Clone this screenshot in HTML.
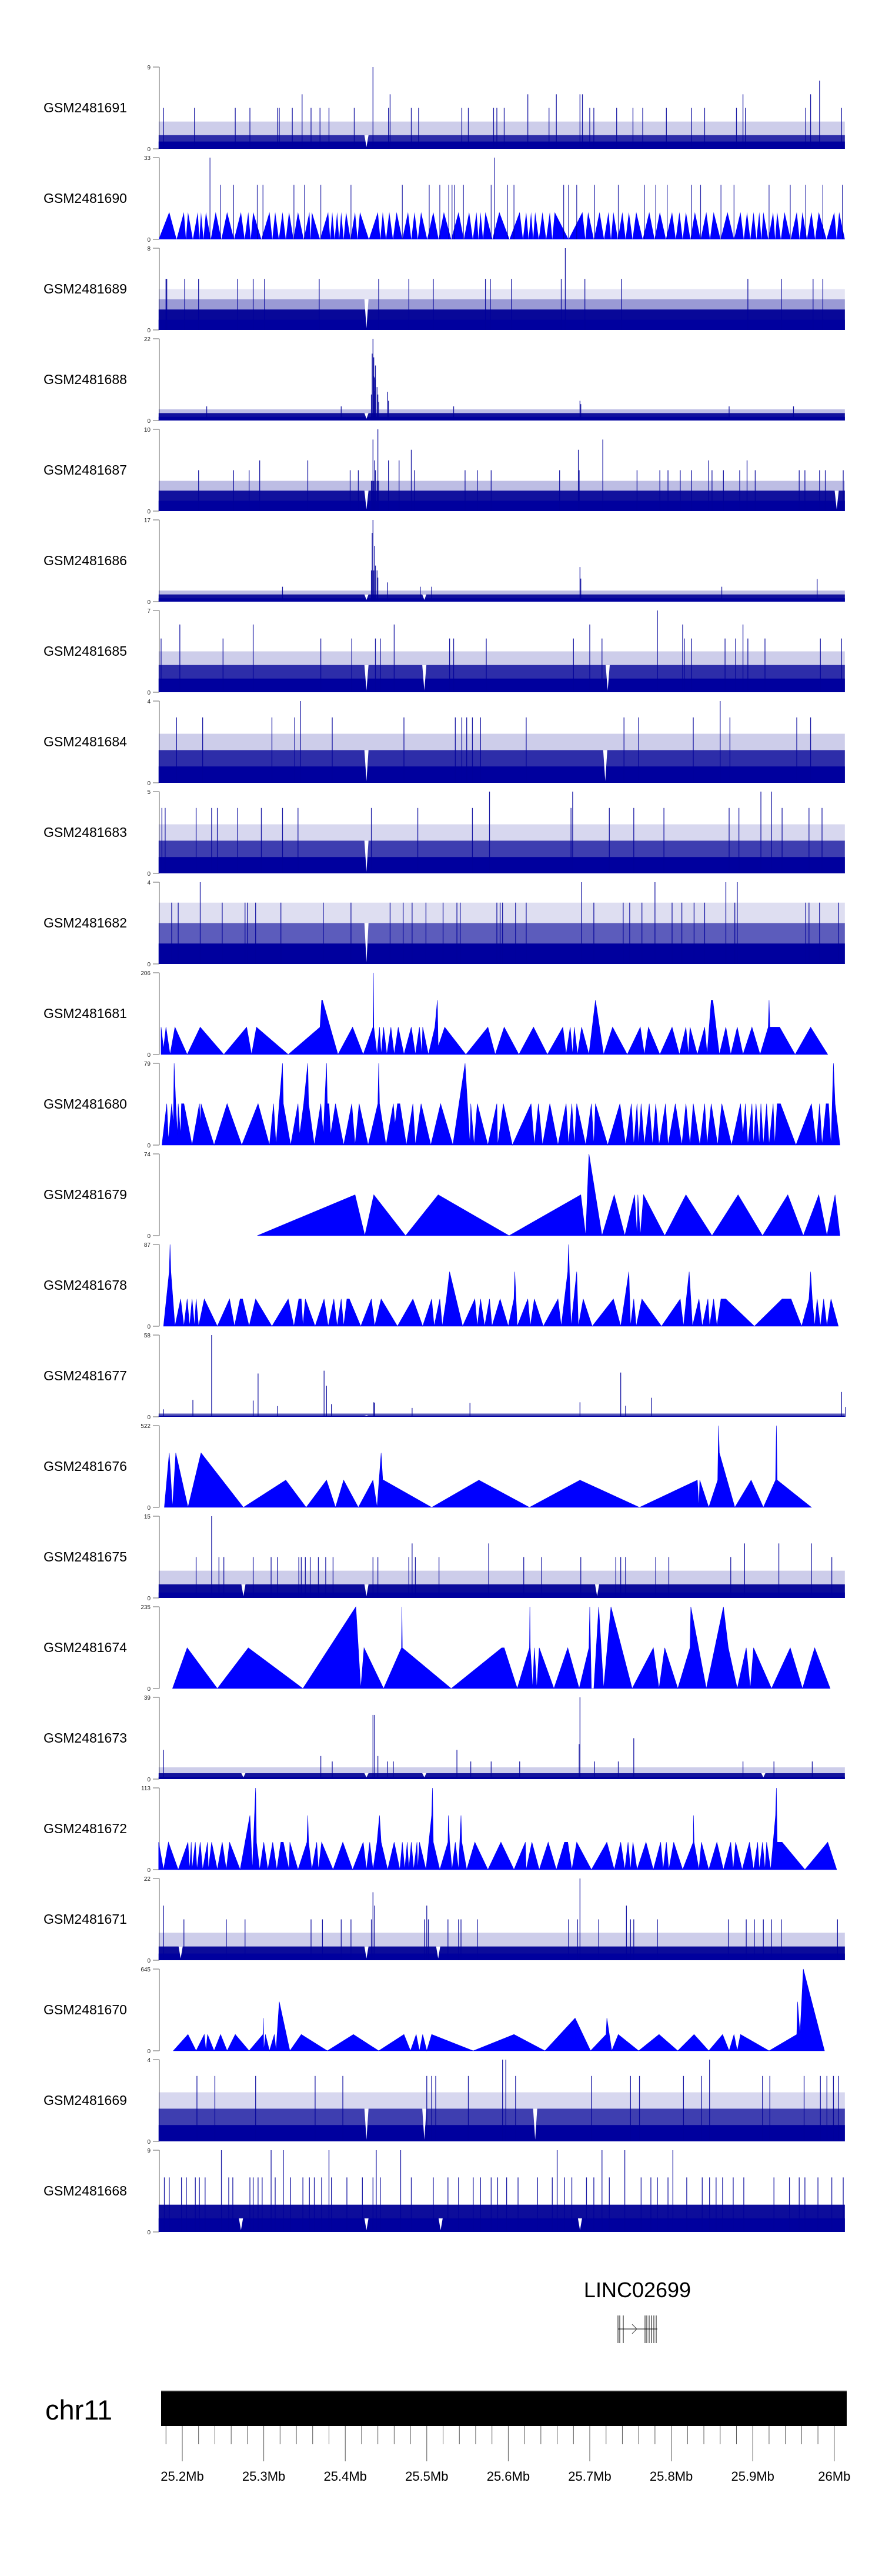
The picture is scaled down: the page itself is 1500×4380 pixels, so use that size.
<!DOCTYPE html>
<html><head><meta charset="utf-8"><title>Genome tracks chr11</title>
<style>
html,body{margin:0;padding:0;background:#fff;}
svg{display:block;}
text{font-family:"Liberation Sans",Arial,sans-serif;}
</style></head>
<body>
<svg id="chart" xmlns="http://www.w3.org/2000/svg" width="1500" height="4380" viewBox="0 0 1500 4380">
<rect x="0" y="0" width="1500" height="4380" fill="#fff"/>
<g id="tracks"></g>
<g id="gene">
  <text x="1084" y="3906" font-size="36" text-anchor="middle" fill="#000">LINC02699</text>
  <g stroke="#000" stroke-width="1" fill="none">
    <line x1="1051" y1="3960" x2="1118" y2="3960"/>
    <line x1="1051" y1="3937" x2="1051" y2="3984"/><line x1="1054" y1="3937" x2="1054" y2="3984"/><line x1="1060" y1="3937" x2="1060" y2="3984"/>
    <line x1="1097" y1="3937" x2="1097" y2="3984"/><line x1="1100" y1="3937" x2="1100" y2="3984"/><line x1="1104" y1="3937" x2="1104" y2="3984"/>
    <line x1="1108" y1="3937" x2="1108" y2="3984"/><line x1="1112" y1="3937" x2="1112" y2="3984"/><line x1="1116" y1="3937" x2="1116" y2="3984"/>
    <polyline points="1075,3952 1083,3960 1075,3968" stroke="#444"/>
  </g>
</g>
<g id="ideo">
  <text x="77" y="4114" font-size="47" fill="#000">chr11</text>
  <line x1="274" y1="4065" x2="1440" y2="4065" stroke="#999" stroke-width="1"/>
  <rect x="274" y="4066" width="1166" height="59" fill="#000"/>
  <g id="gticks"></g>
</g>
</svg>
<script>
// ---------- data ----------
const trackNames = ["GSM2481691","GSM2481690","GSM2481689","GSM2481688","GSM2481687","GSM2481686","GSM2481685","GSM2481684","GSM2481683","GSM2481682","GSM2481681","GSM2481680","GSM2481679","GSM2481678","GSM2481677","GSM2481676","GSM2481675","GSM2481674","GSM2481673","GSM2481672","GSM2481671","GSM2481670","GSM2481669","GSM2481668"];
const trackMax = [9,33,8,22,10,17,7,4,5,4,206,79,74,87,58,522,15,235,39,113,22,645,4,9];
const denseRange = [25.171, 26.013];
const majorTicksMb = [25.2,25.3,25.4,25.5,25.6,25.7,25.8,25.9,26.0];
const majorTickLabels = ["25.2Mb","25.3Mb","25.4Mb","25.5Mb","25.6Mb","25.7Mb","25.8Mb","25.9Mb","26Mb"];
const minorTicksMb = [25.18,25.22,25.24,25.26,25.28,25.32,25.34,25.36,25.38,25.42,25.44,25.46,25.48,25.52,25.54,25.56,25.58,25.62,25.64,25.66,25.68,25.72,25.74,25.76,25.78,25.82,25.84,25.86,25.88,25.92,25.94,25.96,25.98];

const t0Bands = [[3,0.15],[1.5,0.6],[0.8,1]];
const t0Spikes = [[25.177,4.5],[25.215,4.5],[25.265,4.5],[25.283,4.5],[25.317,4.5],[25.319,4.5],[25.335,4.5],[25.347,6],[25.358,4.5],[25.369,4.5],[25.380,4.5],[25.411,4.5],[25.434,9],[25.453,4.5],[25.455,6],[25.481,4.5],[25.490,4.5],[25.543,4.5],[25.551,4.5],[25.582,4.5],[25.586,4.5],[25.595,4.5],[25.624,6],[25.650,4.5],[25.659,6],[25.688,6],[25.691,6],[25.700,4.5],[25.705,4.5],[25.733,4.5],[25.753,4.5],[25.765,4.5],[25.794,4.5],[25.825,4.5],[25.841,4.5],[25.880,4.5],[25.888,6],[25.891,4.5],[25.965,4.5],[25.971,6],[25.982,7.5],[26.009,4.5]];
const t0Dips = [25.426];

const t1Peaks = [25.184,25.202,25.207,25.219,25.223,25.229,25.241,25.255,25.272,25.281,25.287,25.307,25.314,25.323,25.331,25.342,25.356,25.359,25.379,25.384,25.390,25.395,25.401,25.412,25.418,25.440,25.446,25.454,25.463,25.477,25.485,25.493,25.508,25.521,25.539,25.552,25.561,25.566,25.572,25.589,25.614,25.622,25.628,25.633,25.642,25.651,25.657,25.691,25.698,25.712,25.723,25.729,25.740,25.748,25.757,25.773,25.786,25.801,25.810,25.818,25.829,25.843,25.852,25.869,25.885,25.893,25.901,25.908,25.913,25.925,25.930,25.939,25.954,25.961,25.972,25.981,26.000,26.006];
const t1PeakValue = [11];
const t1Spikes = [[25.234,33],[25.583,33],[25.247,22],[25.263,22],[25.292,22],[25.299,22],[25.337,22],[25.350,22],[25.370,22],[25.407,22],[25.470,22],[25.503,22],[25.516,22],[25.527,22],[25.531,22],[25.534,22],[25.545,22],[25.579,22],[25.599,22],[25.607,22],[25.668,22],[25.674,22],[25.684,22],[25.706,22],[25.735,22],[25.767,22],[25.781,22],[25.795,22],[25.825,22],[25.836,22],[25.861,22],[25.877,22],[25.920,22],[25.946,22],[25.965,22],[25.986,22],[26.010,22]];

const t2Bands = [[4,0.08],[3,0.25],[2,0.85],[1,1]];
const t2Spikes = [[25.670,8],[25.180,5],[25.181,5],[25.203,5],[25.220,5],[25.268,5],[25.287,5],[25.301,5],[25.368,5],[25.441,5],[25.478,5],[25.508,5],[25.572,5],[25.578,5],[25.604,5],[25.665,5],[25.694,5],[25.739,5],[25.894,5],[25.935,5],[25.974,5],[25.986,5]];
const t2Dips = [25.426];

const t3Bands = [[3,0.2],[2,0.7],[1,1]];
const t3Spikes = [[25.434,22],[25.433,18],[25.432,7],[25.435,17],[25.435,12],[25.436,11.6],[25.436,8],[25.437,11],[25.437,14.8],[25.439,9],[25.440,7],[25.441,5],[25.452,7.7],[25.453,5.3],[25.688,5.3],[25.689,4.4],[25.230,3.8],[25.395,3.8],[25.533,3.8],[25.871,3.8],[25.950,3.8]];
const t3Dips = [25.426];

const t4Bands = [[3.7,0.2],[2.5,0.7],[1.26,1]];
const t4Spikes = [[25.434,8.75],[25.440,10],[25.436,6.2],[25.437,5],[25.432,3.7],[25.433,3.7],[25.435,3.7],[25.439,3.7],[25.441,3.7],[25.453,6.2],[25.466,6.2],[25.481,7.5],[25.295,6.2],[25.354,6.2],[25.220,5],[25.263,5],[25.282,5],[25.406,5],[25.416,5],[25.485,5],[25.547,5],[25.562,5],[25.579,5],[25.663,5],[25.686,7.5],[25.687,5],[25.716,8.75],[25.758,5],[25.786,5],[25.796,5],[25.811,5],[25.825,5],[25.846,6.2],[25.850,5],[25.864,5],[25.884,5],[25.893,6.2],[25.903,5],[25.957,5],[25.964,5],[25.982,5],[25.989,5],[26.011,5]];
const t4Dips = [25.426,26.003];

const t5Bands = [[2.3,0.2],[1.5,0.7],[0.7,1]];
const t5Spikes = [[25.434,17],[25.433,14.3],[25.432,6.5],[25.433,6.5],[25.435,6.5],[25.436,11.6],[25.437,7.5],[25.439,6.5],[25.440,5],[25.452,4],[25.688,7.2],[25.689,4.8],[25.323,3.1],[25.492,3.1],[25.506,3.1],[25.862,3.1],[25.979,4.7]];
const t5Dips = [25.426,25.497];

const t6Bands = [[3.5,0.15],[2.33,0.6],[1.17,1]];
const t6Spikes = [[25.783,7],[25.197,5.8],[25.287,5.8],[25.460,5.8],[25.700,5.8],[25.814,5.8],[25.888,5.8],[25.174,4.6],[25.250,4.6],[25.370,4.6],[25.408,4.6],[25.437,4.6],[25.443,4.6],[25.528,4.6],[25.533,4.6],[25.573,4.6],[25.680,4.6],[25.715,4.6],[25.816,4.6],[25.825,4.6],[25.866,4.6],[25.879,4.6],[25.894,4.6],[25.915,4.6],[25.983,4.6],[26.009,4.6]];
const t6Dips = [25.426,25.497,25.722];

const t7Bands = [[2.4,0.15],[1.6,0.6],[0.8,1]];
const t7Spikes = [[25.345,4],[25.860,4],[25.193,3.2],[25.225,3.2],[25.310,3.2],[25.338,3.2],[25.384,3.2],[25.472,3.2],[25.535,3.2],[25.543,3.2],[25.549,3.2],[25.556,3.2],[25.566,3.2],[25.622,3.2],[25.742,3.2],[25.760,3.2],[25.827,3.2],[25.872,3.2],[25.954,3.2],[25.971,3.2]];
const t7Dips = [25.426,25.719];

const t8Bands = [[3,0.12],[2,0.55],[1,1]];
const t8Spikes = [[25.577,5],[25.679,5],[25.910,5],[25.923,5],[25.175,4],[25.179,4],[25.217,4],[25.236,4],[25.243,4],[25.268,4],[25.297,4],[25.323,4],[25.342,4],[25.432,4],[25.489,4],[25.556,4],[25.677,4],[25.724,4],[25.754,4],[25.791,4],[25.871,4],[25.883,4],[25.936,4],[25.969,4],[25.985,4]];
const t8Dips = [25.426];

const t9Bands = [[3,0.1],[2,0.45],[1,1]];
const t9Spikes = [[25.222,4],[25.690,4],[25.780,4],[25.867,4],[25.881,4],[25.187,3],[25.195,3],[25.249,3],[25.277,3],[25.280,3],[25.290,3],[25.321,3],[25.373,3],[25.407,3],[25.455,3],[25.471,3],[25.482,3],[25.499,3],[25.520,3],[25.537,3],[25.541,3],[25.586,3],[25.590,3],[25.593,3],[25.609,3],[25.622,3],[25.705,3],[25.741,3],[25.749,3],[25.764,3],[25.801,3],[25.813,3],[25.828,3],[25.841,3],[25.878,3],[25.965,3],[25.969,3],[25.982,3],[26.005,3]];
const t9Dips = [25.426];

const t10Verts = [[25.174,69],[25.177,15],[25.180,69],[25.185,0],[25.191,69],[25.206,0],[25.222,69],[25.251,0],[25.279,69],[25.285,0],[25.291,69],[25.330,0],[25.369,69],[25.371,137],[25.372,137],[25.391,0],[25.409,69],[25.422,0],[25.434,69],[25.4345,206],[25.435,69],[25.439,0],[25.442,69],[25.444,0],[25.447,69],[25.451,0],[25.456,69],[25.460,0],[25.465,69],[25.472,0],[25.481,69],[25.486,0],[25.491,69],[25.494,0],[25.495,69],[25.502,0],[25.510,69],[25.513,137],[25.514,20],[25.522,69],[25.548,0],[25.575,69],[25.584,0],[25.595,69],[25.613,0],[25.631,69],[25.648,0],[25.667,69],[25.671,0],[25.676,69],[25.679,0],[25.681,69],[25.685,0],[25.690,69],[25.699,0],[25.707,137],[25.717,0],[25.728,69],[25.746,0],[25.762,69],[25.767,0],[25.772,69],[25.786,0],[25.801,69],[25.810,0],[25.818,69],[25.821,0],[25.823,69],[25.832,0],[25.841,69],[25.844,0],[25.849,137],[25.851,137],[25.859,0],[25.867,69],[25.873,0],[25.881,69],[25.888,0],[25.899,69],[25.909,0],[25.919,69],[25.920,137],[25.921,69],[25.933,69],[25.952,0],[25.971,69],[25.992,0]];

const t11Verts = [[25.175,0],[25.181,40],[25.183,5],[25.187,40],[25.189,20],[25.190,79],[25.192,40],[25.194,10],[25.195,40],[25.198,10],[25.199,40],[25.202,40],[25.212,0],[25.221,40],[25.222,20],[25.223,40],[25.239,0],[25.255,40],[25.273,0],[25.293,40],[25.307,0],[25.312,40],[25.315,0],[25.319,40],[25.323,79],[25.324,40],[25.333,0],[25.342,40],[25.344,10],[25.349,40],[25.354,79],[25.355,40],[25.362,0],[25.370,40],[25.373,10],[25.377,79],[25.378,40],[25.380,40],[25.382,10],[25.388,40],[25.398,0],[25.408,40],[25.412,0],[25.417,40],[25.428,0],[25.440,40],[25.441,79],[25.442,40],[25.450,0],[25.459,40],[25.461,20],[25.464,40],[25.467,40],[25.475,0],[25.483,40],[25.486,0],[25.493,40],[25.505,0],[25.517,40],[25.532,0],[25.547,79],[25.553,0],[25.554,40],[25.558,0],[25.562,40],[25.575,0],[25.586,40],[25.587,0],[25.594,40],[25.605,0],[25.628,40],[25.632,0],[25.637,40],[25.642,0],[25.651,40],[25.661,0],[25.671,40],[25.674,0],[25.678,40],[25.681,0],[25.684,40],[25.695,0],[25.702,40],[25.705,0],[25.707,40],[25.722,0],[25.737,40],[25.744,0],[25.751,40],[25.754,0],[25.758,40],[25.760,0],[25.763,40],[25.767,0],[25.773,40],[25.777,0],[25.781,40],[25.785,0],[25.793,40],[25.796,0],[25.805,40],[25.813,0],[25.818,40],[25.823,0],[25.827,40],[25.835,0],[25.841,40],[25.844,0],[25.849,40],[25.857,0],[25.862,40],[25.874,0],[25.885,40],[25.888,10],[25.891,40],[25.894,0],[25.899,40],[25.901,0],[25.904,40],[25.908,0],[25.910,40],[25.913,0],[25.917,40],[25.920,0],[25.925,40],[25.927,0],[25.930,40],[25.934,40],[25.953,0],[25.972,40],[25.978,0],[25.982,40],[25.985,0],[25.990,40],[25.993,40],[25.996,0],[25.999,79],[26.001,40],[26.007,0]];

const t12Verts = [[25.292,0],[25.412,37],[25.424,0],[25.435,37],[25.474,0],[25.514,37],[25.601,0],[25.689,37],[25.695,0],[25.699,74],[25.715,0],[25.730,37],[25.743,0],[25.755,37],[25.758,0],[25.759,37],[25.762,0],[25.766,37],[25.792,0],[25.818,37],[25.850,0],[25.882,37],[25.912,0],[25.943,37],[25.962,0],[25.981,37],[25.991,0],[26.001,37],[26.007,0]];

const t13Verts = [[25.177,0],[25.184,58],[25.185,87],[25.186,58],[25.191,0],[25.198,29],[25.202,0],[25.206,29],[25.209,0],[25.212,29],[25.215,0],[25.217,29],[25.220,0],[25.227,29],[25.243,0],[25.258,29],[25.264,0],[25.271,29],[25.274,29],[25.282,0],[25.290,29],[25.310,0],[25.330,29],[25.337,0],[25.343,29],[25.346,29],[25.348,0],[25.351,29],[25.363,0],[25.374,29],[25.379,0],[25.386,29],[25.390,0],[25.395,29],[25.398,0],[25.402,29],[25.405,29],[25.419,0],[25.432,29],[25.436,0],[25.444,29],[25.464,0],[25.483,29],[25.495,0],[25.506,29],[25.509,0],[25.516,29],[25.519,0],[25.524,29],[25.528,58],[25.544,0],[25.559,29],[25.562,0],[25.566,29],[25.571,0],[25.577,29],[25.580,0],[25.590,29],[25.600,0],[25.607,29],[25.608,58],[25.611,0],[25.624,29],[25.627,0],[25.632,29],[25.643,0],[25.661,29],[25.665,0],[25.673,58],[25.674,87],[25.677,0],[25.684,58],[25.686,0],[25.692,29],[25.703,0],[25.729,29],[25.738,0],[25.748,58],[25.750,0],[25.754,29],[25.757,0],[25.764,29],[25.788,0],[25.811,29],[25.815,0],[25.822,58],[25.824,29],[25.826,0],[25.834,29],[25.838,0],[25.845,29],[25.847,0],[25.852,29],[25.856,0],[25.861,29],[25.867,29],[25.902,0],[25.936,29],[25.947,29],[25.960,0],[25.969,29],[25.971,58],[25.973,29],[25.976,0],[25.979,29],[25.983,0],[25.987,29],[25.991,0],[25.996,29],[26.005,0]];

const t14Bands = [[2.3,0.5],[0.8,1]];
const t14Spikes = [[25.236,58],[25.293,30.7],[25.374,32.7],[25.377,22],[25.213,12],[25.287,11.5],[25.317,7.6],[25.435,10.3],[25.436,10],[25.553,9.8],[25.688,10.3],[25.738,31.4],[25.744,7.8],[25.776,13.5],[26.009,17.6],[26.014,7],[25.383,9],[25.482,6.3],[25.177,5.3]];
const t14Dips = [25.426];

const t15Verts = [[25.178,0],[25.184,348],[25.188,0],[25.192,348],[25.207,0],[25.223,348],[25.275,0],[25.327,174],[25.352,0],[25.377,174],[25.388,0],[25.398,174],[25.416,0],[25.434,174],[25.439,0],[25.444,348],[25.446,174],[25.447,174],[25.506,0],[25.564,174],[25.626,0],[25.688,174],[25.761,0],[25.832,174],[25.834,0],[25.835,174],[25.846,0],[25.857,174],[25.858,522],[25.859,348],[25.878,0],[25.898,174],[25.913,0],[25.928,174],[25.929,522],[25.930,174],[25.972,0]];

const t16Bands = [[5,0.15],[2.5,0.8],[1,1]];
const t16Spikes = [[25.236,15],[25.482,10],[25.576,10],[25.890,10],[25.932,10],[25.972,10],[25.217,7.5],[25.245,7.5],[25.251,7.5],[25.287,7.5],[25.309,7.5],[25.317,7.5],[25.343,7.5],[25.346,7.5],[25.351,7.5],[25.357,7.5],[25.367,7.5],[25.376,7.5],[25.385,7.5],[25.434,7.5],[25.440,7.5],[25.478,7.5],[25.486,7.5],[25.515,7.5],[25.619,7.5],[25.641,7.5],[25.689,7.5],[25.732,7.5],[25.738,7.5],[25.744,7.5],[25.781,7.5],[25.797,7.5],[25.873,7.5],[25.997,7.5]];
const t16Dips = [25.275,25.426,25.709];

const t17Verts = [[25.188,0],[25.206,117],[25.243,0],[25.281,117],[25.348,0],[25.413,235],[25.419,0],[25.423,117],[25.447,0],[25.469,117],[25.4695,235],[25.470,117],[25.530,0],[25.592,117],[25.595,117],[25.611,0],[25.626,117],[25.6265,235],[25.627,117],[25.630,0],[25.632,117],[25.635,0],[25.638,117],[25.656,0],[25.673,117],[25.687,0],[25.699,117],[25.700,235],[25.702,0],[25.705,0],[25.711,235],[25.717,0],[25.726,235],[25.752,0],[25.778,117],[25.785,0],[25.792,117],[25.808,0],[25.823,117],[25.824,235],[25.843,0],[25.864,235],[25.870,117],[25.881,0],[25.892,117],[25.897,0],[25.901,117],[25.923,0],[25.946,117],[25.961,0],[25.976,117],[25.995,0]];

const t18Bands = [[5.6,0.15],[2.8,0.7],[1.1,1]];
const t18Spikes = [[25.688,39],[25.434,30.6],[25.436,30.6],[25.754,19.5],[25.177,13.9],[25.370,11],[25.440,11],[25.537,13.9],[25.554,8.4],[25.579,8.4],[25.614,8.4],[25.384,8.4],[25.452,8.4],[25.459,8.4],[25.888,8.4],[25.926,8.4],[25.973,8.4],[25.706,8.4],[25.735,8.4],[25.687,16.7]];
const t18Dips = [25.275,25.426,25.497,25.913];

const t19Verts = [[25.171,38],[25.177,0],[25.183,38],[25.195,0],[25.207,38],[25.209,0],[25.211,38],[25.212,0],[25.216,38],[25.218,0],[25.222,38],[25.225,0],[25.231,38],[25.232,0],[25.236,38],[25.243,0],[25.249,38],[25.254,0],[25.258,38],[25.271,0],[25.283,75],[25.286,0],[25.290,113],[25.291,38],[25.295,0],[25.300,38],[25.305,0],[25.311,38],[25.316,0],[25.321,38],[25.324,38],[25.331,0],[25.332,38],[25.342,0],[25.353,38],[25.354,75],[25.355,38],[25.359,0],[25.365,38],[25.367,0],[25.371,38],[25.385,0],[25.397,38],[25.409,0],[25.422,38],[25.426,0],[25.430,38],[25.434,0],[25.439,38],[25.442,75],[25.444,38],[25.452,0],[25.460,38],[25.467,0],[25.470,38],[25.473,0],[25.476,38],[25.478,0],[25.481,38],[25.484,0],[25.488,38],[25.489,0],[25.491,38],[25.499,0],[25.506,75],[25.507,113],[25.508,38],[25.516,0],[25.526,38],[25.5265,75],[25.528,38],[25.531,0],[25.535,38],[25.539,0],[25.542,75],[25.543,38],[25.549,0],[25.559,38],[25.575,0],[25.591,38],[25.607,0],[25.621,38],[25.622,0],[25.629,38],[25.638,0],[25.649,38],[25.659,0],[25.669,38],[25.673,38],[25.678,0],[25.684,38],[25.702,0],[25.721,38],[25.730,0],[25.738,38],[25.743,0],[25.747,38],[25.750,0],[25.753,38],[25.758,0],[25.769,38],[25.778,0],[25.787,38],[25.790,0],[25.794,38],[25.797,0],[25.803,38],[25.814,0],[25.827,38],[25.8272,75],[25.828,38],[25.834,0],[25.837,38],[25.846,0],[25.856,38],[25.864,0],[25.873,38],[25.876,0],[25.879,38],[25.887,0],[25.896,38],[25.901,0],[25.906,38],[25.908,0],[25.912,38],[25.915,0],[25.917,38],[25.922,0],[25.928,75],[25.929,113],[25.930,38],[25.936,38],[25.964,0],[25.992,38],[26.003,0]];

const t20Bands = [[7.4,0.15],[3.7,0.75],[1.8,1]];
const t20Spikes = [[25.688,22],[25.434,18.3],[25.177,14.7],[25.436,14.7],[25.500,14.7],[25.745,14.7],[25.202,11],[25.254,11],[25.277,11],[25.358,11],[25.372,11],[25.395,11],[25.407,11],[25.432,11],[25.497,11],[25.502,11],[25.526,11],[25.539,11],[25.542,11],[25.562,11],[25.674,11],[25.685,11],[25.711,11],[25.750,11],[25.754,11],[25.783,11],[25.870,11],[25.892,11],[25.902,11],[25.913,11],[25.923,11],[25.935,11],[26.004,11]];
const t20Dips = [25.198,25.426,25.514];

const t21Verts = [[25.189,0],[25.207,129],[25.217,0],[25.227,129],[25.229,0],[25.231,129],[25.239,0],[25.247,129],[25.255,0],[25.265,129],[25.282,0],[25.299,129],[25.2995,258],[25.300,0],[25.302,129],[25.307,0],[25.313,129],[25.315,0],[25.319,387],[25.332,0],[25.346,129],[25.378,0],[25.410,129],[25.441,0],[25.472,129],[25.480,0],[25.487,129],[25.491,0],[25.495,129],[25.500,0],[25.506,129],[25.557,0],[25.607,129],[25.645,0],[25.682,258],[25.701,0],[25.720,129],[25.721,258],[25.727,0],[25.735,129],[25.760,0],[25.785,129],[25.808,0],[25.828,129],[25.846,0],[25.863,129],[25.871,0],[25.877,129],[25.881,0],[25.885,129],[25.920,0],[25.954,129],[25.955,387],[25.958,129],[25.962,645],[25.988,0]];

const t22Bands = [[2.4,0.12],[1.6,0.55],[0.8,1]];
const t22Spikes = [[25.593,4],[25.597,4],[25.847,4],[25.218,3.2],[25.240,3.2],[25.290,3.2],[25.363,3.2],[25.397,3.2],[25.500,3.2],[25.506,3.2],[25.511,3.2],[25.551,3.2],[25.609,3.2],[25.702,3.2],[25.750,3.2],[25.761,3.2],[25.815,3.2],[25.837,3.2],[25.912,3.2],[25.921,3.2],[25.963,3.2],[25.983,3.2],[25.991,3.2],[25.999,3.2],[26.005,3.2]];
const t22Dips = [25.426,25.497,25.633];

const t23Bands = [[3,0.8],[1.5,1]];
const t23Spikes = [[25.248,9],[25.309,9],[25.324,9],[25.380,9],[25.438,9],[25.468,9],[25.660,9],[25.715,9],[25.743,9],[25.802,9],[25.178,6],[25.184,6],[25.199,6],[25.205,6],[25.216,6],[25.221,6],[25.228,6],[25.257,6],[25.262,6],[25.283,6],[25.287,6],[25.293,6],[25.298,6],[25.314,6],[25.333,6],[25.348,6],[25.356,6],[25.362,6],[25.371,6],[25.383,6],[25.402,6],[25.421,6],[25.434,6],[25.443,6],[25.481,6],[25.508,6],[25.526,6],[25.539,6],[25.557,6],[25.566,6],[25.579,6],[25.587,6],[25.598,6],[25.612,6],[25.636,6],[25.654,6],[25.669,6],[25.678,6],[25.696,6],[25.705,6],[25.724,6],[25.763,6],[25.775,6],[25.783,6],[25.796,6],[25.819,6],[25.838,6],[25.847,6],[25.855,6],[25.863,6],[25.876,6],[25.889,6],[25.926,6],[25.945,6],[25.957,6],[25.964,6],[25.980,6],[25.997,6],[26.011,6]];
const t23Dips = [25.272,25.426,25.517,25.688];

// ---------- rendering ----------
const NS = "http://www.w3.org/2000/svg";
const X0 = 310, PX_PER_MB = 1386;
function xScale(mb){ return X0 + (mb - 25.2) * PX_PER_MB; }
const TRACK_TOP = 114, TRACK_PITCH = 154, TRACK_H = 139;
function yScale(i, v){ const base = TRACK_TOP + TRACK_PITCH*i + TRACK_H; return base - (v/trackMax[i]) * TRACK_H; }
function mk(tag, attrs, parent){ const e = document.createElementNS(NS, tag); for (const k in attrs) e.setAttribute(k, attrs[k]); parent.appendChild(e); return e; }

const trackLayout = [
 {kind:"dense", bands:t0Bands, spikes:t0Spikes, dips:t0Dips},
 {kind:"saw", peaks:t1Peaks, peakValue:t1PeakValue, spikes:t1Spikes},
 {kind:"dense", bands:t2Bands, spikes:t2Spikes, dips:t2Dips},
 {kind:"dense", bands:t3Bands, spikes:t3Spikes, dips:t3Dips},
 {kind:"dense", bands:t4Bands, spikes:t4Spikes, dips:t4Dips},
 {kind:"dense", bands:t5Bands, spikes:t5Spikes, dips:t5Dips},
 {kind:"dense", bands:t6Bands, spikes:t6Spikes, dips:t6Dips},
 {kind:"dense", bands:t7Bands, spikes:t7Spikes, dips:t7Dips},
 {kind:"dense", bands:t8Bands, spikes:t8Spikes, dips:t8Dips},
 {kind:"dense", bands:t9Bands, spikes:t9Spikes, dips:t9Dips},
 {kind:"tri", verts:t10Verts},
 {kind:"tri", verts:t11Verts},
 {kind:"tri", verts:t12Verts},
 {kind:"tri", verts:t13Verts},
 {kind:"dense", bands:t14Bands, spikes:t14Spikes, dips:t14Dips},
 {kind:"tri", verts:t15Verts},
 {kind:"dense", bands:t16Bands, spikes:t16Spikes, dips:t16Dips},
 {kind:"tri", verts:t17Verts},
 {kind:"dense", bands:t18Bands, spikes:t18Spikes, dips:t18Dips},
 {kind:"tri", verts:t19Verts},
 {kind:"dense", bands:t20Bands, spikes:t20Spikes, dips:t20Dips},
 {kind:"tri", verts:t21Verts},
 {kind:"dense", bands:t22Bands, spikes:t22Spikes, dips:t22Dips},
 {kind:"dense", bands:t23Bands, spikes:t23Spikes, dips:t23Dips}
];

const root = document.getElementById("tracks");
trackNames.forEach((name, i) => {
  const top = TRACK_TOP + TRACK_PITCH*i, base = top + TRACK_H;
  const g = mk("g", {}, root);
  
  

  const lab = mk("text", {x:74, y:top + 69 + 8, "font-size":23, fill:"#000"}, g);
  lab.textContent = name;
  
  

  const ax = mk("g", {stroke:"#888", "stroke-width":1.3, fill:"none"}, g);
  
  
  mk("line", {x1:271, y1:top, x2:271, y2:base}, ax);
  mk("line", {x1:260, y1:top, x2:271, y2:top}, ax);
  mk("line", {x1:260, y1:base, x2:271, y2:base}, ax);
  const tMax = mk("text", {x:256, y:top + 4, "font-size":10, "text-anchor":"end", fill:"#222"}, g);
  tMax.textContent = String(trackMax[i]);
  
  
  const tMin = mk("text", {x:256, y:base + 4, "font-size":10, "text-anchor":"end", fill:"#222"}, g);
  tMin.textContent = "0";
  
  

  const L = trackLayout[i];
  const x0 = xScale(denseRange[0]), x1 = xScale(denseRange[1]);
  if (L.kind === "dense") {
    const bandVals = L.bands.map(b => b[0]);
    const sorted = bandVals.slice().sort((a,b)=>b-a);
    const second = sorted.length > 1 ? sorted[1] : sorted[0];
    L.bands.forEach(b => {
      const y = yScale(i, b[0]);
      const op = b[1] >= 1 ? 1 : Math.min(0.95, b[1] * 1.3);
      const r = mk("rect", {x:x0, y:y, width:x1-x0, height:base-y, fill: b[1] >= 1 ? "#00009e" : "#000096", "fill-opacity": op}, g);
      
      
    });
    L.dips.forEach(d => {
      const xd = xScale(d), yt = yScale(i, second);
      const p = mk("polygon", {points:(xd-3.5)+","+yt+" "+(xd+3.5)+","+yt+" "+xd+","+(base-3), fill:"#fff"}, g);
      
      
    });
    L.spikes.forEach(s => {
      const xs = xScale(s[0]);
      const ln = mk("line", {x1:xs, y1:base, x2:xs, y2:yScale(i, s[1]), stroke:"#00009a", "stroke-width":1.3, "stroke-opacity":0.9}, g);
      
      
    });
  } else if (L.kind === "tri") {
    let pts = xScale(L.verts[0][0]) + "," + base;
    L.verts.forEach(v => { pts += " " + xScale(v[0]) + "," + yScale(i, v[1]); });
    pts += " " + xScale(L.verts[L.verts.length-1][0]) + "," + base;
    const p = mk("polygon", {points:pts, fill:"#0000ff", stroke:"#0000ee", "stroke-width":0.6}, g);
    
    
  } else {
    const pk = L.peaks, pv = L.peakValue[0];
    let pts = xScale(denseRange[0]) + "," + base;
    for (let k = 0; k < pk.length; k++) {
      pts += " " + xScale(pk[k]) + "," + yScale(i, pv);
      if (k < pk.length - 1) pts += " " + xScale((pk[k] + pk[k+1]) / 2) + "," + base;
    }
    pts += " " + xScale(denseRange[1]) + "," + base;
    const p = mk("polygon", {points:pts, fill:"#0000ff"}, g);
    
    
    L.spikes.forEach(s => {
      const xs = xScale(s[0]);
      const ln = mk("line", {x1:xs, y1:base, x2:xs, y2:yScale(i, s[1]), stroke:"#00009a", "stroke-width":1.2, "stroke-opacity":0.85}, g);
      
      
    });
  }
});

const gt = document.getElementById("gticks");
minorTicksMb.forEach(m => {
  const x = xScale(m);
  const ln = mk("line", {x1:x, y1:4125, x2:x, y2:4156, stroke:"#555", "stroke-width":1}, gt);
  
  
});
majorTicksMb.forEach((m, k) => {
  const x = xScale(m);
  const ln = mk("line", {x1:x, y1:4125, x2:x, y2:4185, stroke:"#555", "stroke-width":1}, gt);
  
  
  const t = mk("text", {x:x, y:4218, "font-size":22, "text-anchor":"middle", fill:"#000"}, gt);
  t.textContent = majorTickLabels[k];
  
  
});
</script>
</body></html>
